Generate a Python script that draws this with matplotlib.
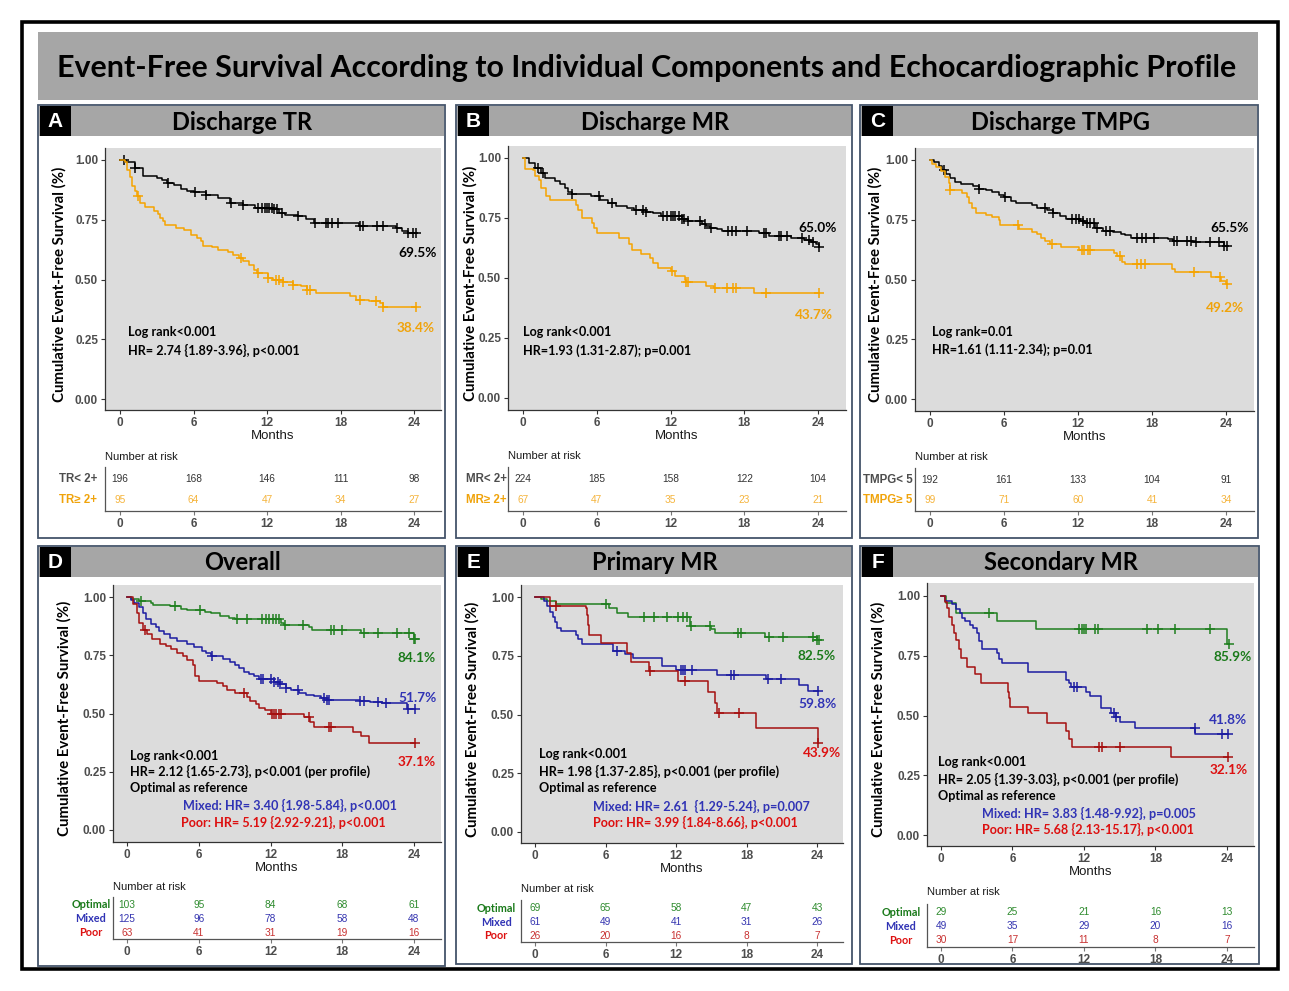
import numpy as np
import matplotlib.pyplot as plt
from matplotlib.patches import Rectangle

W, H = 1289, 991
months = [0, 6, 12, 18, 24]
yticks = [0.0, 0.25, 0.5, 0.75, 1.0]

# ---------------- data ----------------
# A: discharge TR
a_low_t = [0, 0.5, 1.2, 1.9, 3.0, 3.4, 3.8, 4.4, 5.0, 5.5, 6.0, 7.0, 8.0, 9.0, 10.0, 11.0, 12.5, 13.0,
           13.5, 14.5, 15.2, 15.8, 19.5, 22.5, 23.0, 23.5, 24.2]
a_low_s = [1.0, 0.99, 0.965, 0.935, 0.925, 0.915, 0.905, 0.895, 0.88, 0.87, 0.865, 0.855, 0.84, 0.82, 0.81,
           0.80, 0.795, 0.78, 0.77, 0.765, 0.755, 0.735, 0.725, 0.715, 0.705, 0.695, 0.695]
a_low_c = [0.3, 1.2, 3.9, 6.1, 7.0, 9.1, 10.0, 11.3, 11.6, 11.8, 12.0, 12.2, 12.4, 12.6, 12.8, 13.2, 14.5,
           15.9, 16.8, 17.0, 17.3, 17.8, 19.6, 19.8, 21.0, 21.5, 22.6, 23.5, 23.9, 24.2]
a_hi_t = [0, 0.4, 0.6, 0.8, 1.0, 1.2, 1.4, 1.6, 2.0, 2.8, 3.1, 3.3, 3.5, 3.7, 4.6, 5.2, 5.8, 6.3, 6.6, 6.8,
          7.5, 8.0, 8.8, 9.2, 9.7, 10.0, 10.5, 10.9, 11.2, 12.1, 12.5, 13.3, 14.1, 14.8, 15.3, 16.0, 18.8,
          19.3, 20.3, 21.2, 21.5, 24.2]
a_hi_s = [1.0, 0.99, 0.96, 0.93, 0.89, 0.87, 0.85, 0.82, 0.805, 0.785, 0.772, 0.758, 0.745, 0.73, 0.716,
          0.706, 0.688, 0.674, 0.66, 0.642, 0.635, 0.625, 0.615, 0.604, 0.59, 0.576, 0.562, 0.541, 0.527,
          0.506, 0.50, 0.49, 0.478, 0.471, 0.457, 0.443, 0.43, 0.415, 0.408, 0.40, 0.387, 0.387]
a_hi_c = [1.5, 9.9, 11.3, 12.1, 12.7, 13.0, 13.3, 14.1, 15.3, 15.5, 19.6, 20.9, 21.5, 24.2]

# B: discharge MR
b_low_t = [0, 0.5, 1.0, 1.5, 1.8, 2.6, 3.0, 3.4, 3.7, 4.0, 5.5, 6.3, 6.9, 7.6, 8.5, 9.0, 10.0, 10.6, 11.2,
           12.9, 13.4, 14.6, 14.9, 15.2, 15.8, 16.2, 19.2, 20.0, 21.8, 22.9, 23.4, 23.8, 24.1]
b_low_s = [1.0, 0.98, 0.957, 0.936, 0.915, 0.903, 0.89, 0.875, 0.86, 0.85, 0.843, 0.826, 0.812, 0.80,
           0.79, 0.783, 0.775, 0.769, 0.758, 0.745, 0.737, 0.727, 0.716, 0.71, 0.703, 0.696, 0.688, 0.677,
           0.667, 0.657, 0.65, 0.64, 0.63]
b_low_c = [1.2, 1.6, 4.0, 6.2, 7.2, 9.2, 9.8, 10.0, 11.4, 11.7, 12.0, 12.2, 12.4, 12.7, 12.9, 13.1, 13.4,
           14.4, 14.8, 15.3, 16.7, 17.0, 17.3, 18.2, 19.6, 19.8, 20.8, 21.0, 21.5, 22.7, 23.3, 23.6, 24.1]
b_hi_t = [0, 0.2, 0.8, 1.0, 1.3, 1.5, 1.9, 2.2, 4.3, 4.5, 4.8, 5.6, 5.8, 6.0, 7.8, 8.6, 8.9, 9.6, 10.3,
          10.6, 11.0, 12.0, 12.4, 13.2, 13.3, 14.9, 15.5, 18.8, 24.1]
b_hi_s = [1.0, 0.955, 0.948, 0.923, 0.91, 0.873, 0.84, 0.826, 0.805, 0.784, 0.749, 0.728, 0.708, 0.687,
          0.666, 0.642, 0.617, 0.60, 0.582, 0.561, 0.54, 0.531, 0.51, 0.492, 0.485, 0.468, 0.457, 0.438, 0.438]
b_hi_c = [12.1, 13.3, 13.4, 15.6, 16.6, 17.1, 17.3, 19.8, 24.1]

# C: discharge TMPG
c_low_t = [0, 0.3, 0.7, 1.0, 1.3, 1.6, 2.0, 2.5, 3.5, 4.0, 4.5, 5.0, 5.6, 6.0, 6.6, 7.0, 8.3, 8.7, 9.5,
           10.0, 10.5, 11.0, 12.2, 12.6, 13.4, 14.0, 14.8, 15.5, 15.8, 16.3, 19.3, 19.7, 21.3, 23.8, 24.1]
c_low_s = [1.0, 0.99, 0.975, 0.96, 0.94, 0.925, 0.91, 0.90, 0.89, 0.88, 0.875, 0.865, 0.855, 0.845, 0.83,
           0.82, 0.81, 0.80, 0.79, 0.78, 0.765, 0.755, 0.745, 0.735, 0.715, 0.705, 0.70, 0.69, 0.685, 0.675,
           0.67, 0.66, 0.655, 0.64, 0.64]
c_low_c = [1.1, 4.0, 6.1, 9.3, 10.0, 11.5, 11.8, 12.1, 12.4, 12.7, 13.0, 13.3, 13.5, 14.3, 14.6, 16.8,
           17.2, 17.5, 18.2, 19.8, 20.0, 20.8, 21.2, 21.6, 22.7, 23.4, 23.8, 24.1]
c_hi_t = [0, 0.2, 0.5, 0.9, 1.2, 1.5, 1.6, 2.6, 3.0, 3.2, 3.4, 3.7, 4.5, 5.0, 5.6, 5.7, 7.2, 8.3, 8.7,
          9.0, 9.3, 9.7, 10.6, 12.1, 14.9, 15.2, 15.6, 15.8, 19.6, 19.9, 22.8, 23.6, 24.0, 24.1]
c_hi_s = [1.0, 0.985, 0.97, 0.955, 0.93, 0.905, 0.875, 0.86, 0.845, 0.82, 0.80, 0.78, 0.77, 0.76, 0.75,
          0.73, 0.71, 0.70, 0.69, 0.675, 0.66, 0.65, 0.635, 0.625, 0.61, 0.597, 0.575, 0.565, 0.545, 0.53,
          0.51, 0.495, 0.48, 0.48]
c_hi_c = [1.6, 7.1, 9.9, 12.3, 12.5, 12.8, 13.0, 15.4, 16.8, 17.1, 17.4, 21.4, 23.5, 24.1]

# D: overall
d_opt_t = [0, 0.3, 1.0, 2.0, 2.2, 3.6, 4.5, 5.0, 6.5, 7.0, 7.8, 8.5, 9.0, 12.9, 13.1, 15.2, 15.5, 19.6,
           24.0, 24.1]
d_opt_s = [1.0, 0.99, 0.981, 0.975, 0.964, 0.96, 0.95, 0.945, 0.935, 0.93, 0.92, 0.91, 0.905, 0.89, 0.88,
           0.87, 0.86, 0.845, 0.82, 0.82]
d_opt_c = [1.2, 4.0, 6.1, 9.2, 10.0, 11.3, 11.6, 11.9, 12.2, 12.5, 12.7, 13.2, 14.7, 17.1, 17.3, 18.0,
           19.8, 21.0, 22.6, 23.6, 24.0, 24.1]
d_mix_t = [0, 0.3, 0.6, 1.0, 1.3, 1.6, 2.0, 2.4, 2.7, 3.1, 3.6, 4.2, 5.0, 5.6, 6.3, 6.6, 7.0, 8.0, 8.6,
           9.0, 9.4, 9.8, 10.2, 10.6, 11.0, 12.3, 12.8, 13.3, 13.7, 14.4, 15.0, 15.6, 16.2, 16.7, 19.5,
           20.3, 21.3, 23.4, 24.1]
d_mix_s = [1.0, 0.985, 0.975, 0.955, 0.93, 0.905, 0.885, 0.87, 0.855, 0.84, 0.825, 0.81, 0.80, 0.785,
           0.77, 0.76, 0.745, 0.735, 0.72, 0.71, 0.695, 0.68, 0.67, 0.66, 0.65, 0.637, 0.625, 0.61, 0.60,
           0.59, 0.58, 0.573, 0.565, 0.559, 0.553, 0.55, 0.545, 0.52, 0.52]
d_mix_c = [7.1, 11.2, 11.4, 12.0, 12.3, 12.6, 12.8, 13.3, 14.3, 16.5, 16.7, 16.9, 19.5, 19.8, 21.0, 21.7,
           23.5, 24.1]
d_poor_t = [0, 0.5, 0.8, 1.0, 1.3, 1.7, 2.1, 2.8, 3.3, 3.7, 4.2, 4.7, 5.0, 5.5, 5.7, 6.0, 7.5, 8.0, 8.4,
            9.0, 10.0, 10.3, 10.8, 11.0, 11.5, 12.0, 14.8, 15.3, 15.6, 18.9, 19.6, 20.2, 24.1]
d_poor_s = [1.0, 0.97, 0.93, 0.89, 0.86, 0.84, 0.82, 0.80, 0.79, 0.775, 0.76, 0.745, 0.73, 0.71, 0.66,
            0.64, 0.63, 0.62, 0.60, 0.59, 0.57, 0.555, 0.54, 0.525, 0.515, 0.50, 0.485, 0.465, 0.44, 0.42,
            0.405, 0.375, 0.375]
d_poor_c = [1.5, 9.8, 12.1, 12.3, 12.5, 12.7, 12.9, 15.2, 16.9, 17.1, 24.1]

# E: primary MR
e_opt_t = [0, 0.5, 1.0, 1.8, 6.3, 7.0, 7.9, 13.2, 15.0, 15.3, 19.6, 24.0, 24.2]
e_opt_s = [1.0, 0.99, 0.985, 0.97, 0.955, 0.932, 0.913, 0.878, 0.864, 0.847, 0.828, 0.815, 0.815]
e_opt_c = [6.0, 9.3, 10.1, 11.2, 12.2, 12.6, 12.9, 13.3, 14.9, 17.3, 17.5, 19.9, 21.1, 23.7, 24.0, 24.2]
e_mix_t = [0, 0.8, 1.0, 1.3, 1.5, 1.7, 1.9, 2.2, 3.5, 3.7, 4.0, 6.6, 7.7, 8.3, 10.8, 12.0, 15.5, 19.7,
           22.5, 23.2, 24.1]
e_mix_s = [1.0, 0.985, 0.96, 0.935, 0.915, 0.895, 0.87, 0.855, 0.84, 0.82, 0.80, 0.77, 0.757, 0.742,
           0.708, 0.69, 0.67, 0.65, 0.626, 0.60, 0.60]
e_mix_c = [7.0, 12.4, 12.6, 12.8, 13.4, 16.7, 16.9, 19.8, 20.9, 24.1]
e_poor_t = [0, 1.3, 4.3, 4.4, 4.5, 4.6, 5.6, 7.8, 8.2, 9.7, 12.2, 14.7, 15.3, 15.5, 18.8, 24.05, 24.1]
e_poor_s = [1.0, 0.96, 0.955, 0.925, 0.88, 0.84, 0.804, 0.762, 0.723, 0.684, 0.641, 0.594, 0.55, 0.506,
            0.443, 0.38, 0.38]
e_poor_c = [1.8, 9.8, 12.8, 15.7, 17.4, 24.1]

# F: secondary MR
f_opt_t = [0, 0.4, 1.3, 4.7, 8.0, 24.0, 24.2]
f_opt_s = [1.0, 0.97, 0.93, 0.897, 0.862, 0.80, 0.80]
f_opt_c = [4.0, 11.6, 11.8, 12.0, 12.2, 12.9, 13.2, 17.3, 18.2, 19.6, 22.6, 24.2]
f_mix_t = [0, 0.3, 0.9, 1.3, 1.6, 1.8, 2.0, 2.4, 2.7, 3.0, 3.2, 3.4, 4.7, 4.9, 5.1, 7.3, 10.45, 10.7,
           10.95, 12.2, 12.5, 13.4, 14.3, 14.7, 15.0, 16.3, 21.35, 24.1]
f_mix_s = [1.0, 0.98, 0.965, 0.945, 0.93, 0.91, 0.895, 0.88, 0.865, 0.845, 0.81, 0.78, 0.76, 0.735,
           0.718, 0.68, 0.65, 0.635, 0.62, 0.60, 0.58, 0.533, 0.51, 0.495, 0.472, 0.446, 0.423, 0.423]
f_mix_c = [11.2, 11.4, 14.5, 14.7, 21.3, 23.6, 24.1]
f_poor_t = [0, 0.3, 0.5, 0.7, 0.9, 1.1, 1.3, 1.5, 1.7, 2.15, 2.85, 3.35, 5.64, 5.7, 5.8, 7.26, 8.86,
            10.45, 10.7, 11.0, 19.33, 24.1]
f_poor_s = [1.0, 0.976, 0.95, 0.914, 0.879, 0.844, 0.816, 0.78, 0.739, 0.704, 0.672, 0.637, 0.60, 0.575,
            0.537, 0.509, 0.47, 0.437, 0.40, 0.37, 0.325, 0.325]
f_poor_c = [13.3, 13.5, 15.0, 24.1]

# numbers at risk
a_groups = ['TR< 2+', 'TR\u2265 2+']
a_risk = [[196, 168, 146, 111, 98], [95, 64, 47, 34, 27]]
b_groups = ['MR< 2+', 'MR\u2265 2+']
b_risk = [[224, 185, 158, 122, 104], [67, 47, 35, 23, 21]]
c_groups = ['TMPG< 5', 'TMPG\u2265 5']
c_risk = [[192, 161, 133, 104, 91], [99, 71, 60, 41, 34]]
profiles = ['Optimal', 'Mixed', 'Poor']
d_risk = [[103, 95, 84, 68, 61], [125, 96, 78, 58, 48], [63, 41, 31, 19, 16]]
e_risk = [[69, 65, 58, 47, 43], [61, 49, 41, 31, 26], [26, 20, 16, 8, 7]]
f_risk = [[29, 25, 21, 16, 13], [49, 35, 29, 20, 16], [30, 17, 11, 8, 7]]

# colours
BLK, ORG = '#000000', '#f5a300'
GRN, BLU, RED = '#1f7f1f', '#1c1ca0', '#a51010'
ORG_T, GRN_T, BLU_T, RED_T = '#f0a30a', '#1a7a1a', '#3033b5', '#dd1010'

plt.rcParams['font.family'] = ['Liberation Sans', 'DejaVu Sans']
CAL = ['Lato', 'DejaVu Sans']

fig = plt.figure(figsize=(W / 100, H / 100), dpi=100)
fig.patch.set_facecolor('white')
ren = fig.canvas.get_renderer()


def px_axes(l, t, r, b):
    return fig.add_axes([l / W, 1 - b / H, (r - l) / W, (b - t) / H])


def ftext(x, y, s, **kw):
    return fig.text(x / W, 1 - y / H, s, **kw)


def fit_size(s, width, vertical=False, **kw):
    t = fig.text(0, 0, s, fontsize=10, **kw)
    bb = t.get_window_extent(renderer=ren)
    t.remove()
    return 10 * width / (bb.height if vertical else bb.width)


def rect(l, t, r, b, **kw):
    fig.patches.append(Rectangle((l / W, 1 - b / H), (r - l) / W, (b - t) / H,
                                 transform=fig.transFigure, figure=fig, **kw))


fs_main = fit_size('Event-Free Survival According to Individual Components and Echocardiographic Profile',
                   1181, family=CAL, fontweight='bold')
fs_head = fit_size('Discharge TR', 140, family=CAL, fontweight='bold')
fs_ylab = fit_size('Cumulative Event-Free Survival (%)', 235, vertical=True, rotation=90,
                   family=CAL, fontweight='bold')
fs_note = fit_size('HR= 2.74 {1.89-3.96}, p<0.001', 171, family=CAL, fontweight='bold')
fs_pct = fit_size('69.5%', 38, family=CAL, fontweight='bold')
fs_grp = fit_size('Optimal', 39, family=CAL, fontweight='bold')

# outer frame and banner
rect(22, 22, 1278, 969, fill=False, edgecolor='black', lw=2.6, zorder=5)
rect(38, 32, 1258, 100, facecolor='#a6a6a6', edgecolor='none', zorder=1)
ftext(647, 68, 'Event-Free Survival According to Individual Components and Echocardiographic Profile',
      ha='center', va='center', family=CAL, fontweight='bold', fontsize=fs_main)

panels = [
    dict(letter='A', title='Discharge TR', frame=(38, 105, 445, 538), plot=(105, 148, 441, 410),
         ref=(120, 414, 160, 399), ylab_x=59,
         curves=[(a_low_t, a_low_s, a_low_c, BLK), (a_hi_t, a_hi_s, a_hi_c, ORG)],
         pct=[('69.5%', 24.3, 0.611, BLK), ('38.4%', 24.1, 0.297, ORG_T)],
         notes=[('Log rank<0.001', 0.63, 0.28, BLK), ('HR= 2.74 {1.89-3.96}, p<0.001', 0.63, 0.205, BLK)],
         table=(467, 511, 479.3, 20.7, 456.5), groups=a_groups, risk=a_risk,
         gcol=['#4d4d4d', ORG_T], ncol=['#333333', '#f5b43c'], gx=97, gha='right', gfont=None),
    dict(letter='B', title='Discharge MR', frame=(456, 105, 852, 538), plot=(508, 146, 846, 410),
         ref=(523, 818, 158, 398), ylab_x=470,
         curves=[(b_low_t, b_low_s, b_low_c, BLK), (b_hi_t, b_hi_s, b_hi_c, ORG)],
         pct=[('65.0%', 24.0, 0.709, BLK), ('43.7%', 23.7, 0.345, ORG_T)],
         notes=[('Log rank<0.001', 0.0, 0.273, BLK), ('HR=1.93 (1.31-2.87); p=0.001', 0.0, 0.199, BLK)],
         table=(467, 511, 479.3, 20.7, 456), groups=b_groups, risk=b_risk,
         gcol=['#4d4d4d', ORG_T], ncol=['#333333', '#f5b43c'], gx=507, gha='right', gfont=None),
    dict(letter='C', title='Discharge TMPG', frame=(860, 105, 1258, 538), plot=(915, 148, 1254, 411),
         ref=(930, 1226, 160, 399), ylab_x=875,
         curves=[(c_low_t, c_low_s, c_low_c, BLK), (c_hi_t, c_hi_s, c_hi_c, ORG)],
         pct=[('65.5%', 24.3, 0.715, BLK), ('49.2%', 23.9, 0.381, ORG_T)],
         notes=[('Log rank=0.01', 0.2, 0.279, BLK), ('HR=1.61 (1.11-2.34); p=0.01', 0.2, 0.205, BLK)],
         table=(468, 511, 480, 20.3, 456.7), groups=c_groups, risk=c_risk,
         gcol=['#4d4d4d', ORG_T], ncol=['#333333', '#f5b43c'], gx=863, gha='left', gfont=None),
    dict(letter='D', title='Overall', frame=(38, 546, 445, 966), plot=(113, 585, 441, 842),
         ref=(127, 414, 597, 830), ylab_x=64,
         curves=[(d_opt_t, d_opt_s, d_opt_c, GRN), (d_mix_t, d_mix_s, d_mix_c, BLU),
                 (d_poor_t, d_poor_s, d_poor_c, RED)],
         pct=[('84.1%', 24.2, 0.739, GRN_T), ('51.7%', 24.25, 0.567, BLU_T), ('37.1%', 24.25, 0.292, RED_T)],
         notes=[('Log rank<0.001', 0.23, 0.319, BLK),
                ('HR= 2.12 {1.65-2.73}, p<0.001 (per profile)', 0.23, 0.251, BLK),
                ('Optimal as reference', 0.23, 0.179, BLK),
                ('Mixed: HR= 3.40 {1.98-5.84}, p<0.001', 4.68, 0.104, BLU_T),
                ('Poor: HR= 5.19 {2.92-9.21}, p<0.001', 4.55, 0.031, RED_T)],
         table=(897, 939, 905, 14, 886.7), groups=profiles, risk=d_risk,
         gcol=[GRN_T, BLU_T, RED_T], ncol=['#2e8b2e', '#3535b0', '#c83232'], gx=91, gha='center',
         gfont=CAL),
    dict(letter='E', title='Primary MR', frame=(456, 546, 852, 964), plot=(521, 585, 843, 843),
         ref=(535, 817, 597, 832), ylab_x=472,
         curves=[(e_opt_t, e_opt_s, e_opt_c, GRN), (e_mix_t, e_mix_s, e_mix_c, BLU),
                 (e_poor_t, e_poor_s, e_poor_c, RED)],
         pct=[('82.5%', 24.0, 0.750, GRN_T), ('59.8%', 24.0, 0.546, BLU_T), ('43.9%', 24.4, 0.337, RED_T)],
         notes=[('Log rank<0.001', 0.34, 0.332, BLK),
                ('HR= 1.98 {1.37-2.85}, p<0.001 (per profile)', 0.34, 0.258, BLK),
                ('Optimal as reference', 0.34, 0.187, BLK),
                ('Mixed: HR= 2.61  {1.29-5.24}, p=0.007', 4.95, 0.109, BLU_T),
                ('Poor: HR= 3.99 {1.84-8.66}, p<0.001', 4.95, 0.041, RED_T)],
         table=(900, 942.3, 908.3, 13.7, 888.7), groups=profiles, risk=e_risk,
         gcol=[GRN_T, BLU_T, RED_T], ncol=['#2e8b2e', '#3535b0', '#c83232'], gx=496, gha='center',
         gfont=CAL),
    dict(letter='F', title='Secondary MR', frame=(860, 546, 1259, 964), plot=(927, 583, 1254, 846),
         ref=(941, 1227, 596, 835), ylab_x=878,
         curves=[(f_opt_t, f_opt_s, f_opt_c, GRN), (f_mix_t, f_mix_s, f_mix_c, BLU),
                 (f_poor_t, f_poor_s, f_poor_c, RED)],
         pct=[('85.9%', 24.5, 0.745, GRN_T), ('41.8%', 24.1, 0.481, BLU_T), ('32.1%', 24.1, 0.272, RED_T)],
         notes=[('Log rank<0.001', -0.23, 0.304, BLK),
                ('HR= 2.05 {1.39-3.03}, p<0.001 (per profile)', -0.23, 0.233, BLK),
                ('Optimal as reference', -0.23, 0.164, BLK),
                ('Mixed: HR= 3.83 {1.48-9.92}, p=0.005', 3.44, 0.091, BLU_T),
                ('Poor: HR= 5.68 {2.13-15.17}, p<0.001', 3.44, 0.022, RED_T)],
         table=(904, 947, 912, 14, 892.3), groups=profiles, risk=f_risk,
         gcol=[GRN_T, BLU_T, RED_T], ncol=['#2e8b2e', '#3535b0', '#c83232'], gx=901, gha='center',
         gfont=CAL),
]

for p in panels:
    fl, ft, fr, fb = p['frame']
    # panel frame + header bar
    rect(fl, ft, fr, fb, facecolor='white', edgecolor='#44546a', lw=1.3, zorder=-2)
    rect(fl + 1, ft + 1, fr - 1, ft + 31, facecolor='#a6a6a6', edgecolor='none', zorder=1)
    rect(fl + 2, ft + 1, fl + 33, ft + 31, facecolor='black', edgecolor='none', zorder=2)
    ftext(fl + 17.5, ft + 16.5, p['letter'], ha='center', va='center', color='white',
          fontweight='bold', fontsize=15, zorder=3)
    ftext((fl + fr) / 2 + 1, ft + 17, p['title'], ha='center', va='center', family=CAL,
          fontweight='bold', fontsize=fs_head, zorder=3)

    # survival plot
    l, t, r, b = p['plot']
    x0, x24, y1, y0 = p['ref']
    ppm = (x24 - x0) / 24.0
    ppu = float(y0 - y1)
    ax = px_axes(l, t, r, b)
    ax.set_facecolor('#dcdcdc')
    ax.set_xlim((l - x0) / ppm, (r - x0) / ppm)
    ax.set_ylim((y0 - b) / ppu, (y0 - t) / ppu)
    for tt, ss, cc, col in p['curves']:
        tt, ss = np.array(tt), np.array(ss)
        ax.step(tt, ss, where='post', color=col, lw=1.1)
        idx = np.searchsorted(tt, cc, side='right') - 1
        ax.plot(cc, ss[idx], '+', color=col, ms=7, mew=1.1)
    for txt, xx, yy, col in p['pct']:
        ax.text(xx, yy, txt, ha='center', va='center', color=col, family=CAL,
                fontweight='bold', fontsize=fs_pct)
    for txt, xx, yy, col in p['notes']:
        ax.text(xx, yy, txt, ha='left', va='center', color=col, family=CAL,
                fontweight='bold', fontsize=fs_note)
    ax.set_xticks(months, [str(m) for m in months], fontweight='bold', fontsize=8.5, color='#4d4d4d')
    ax.set_yticks(yticks, ['%.2f' % v for v in yticks], fontweight='bold', fontsize=8.5, color='#4d4d4d')
    ax.tick_params(length=3, width=0.8, color='#333333', pad=2)
    ax.spines[['top', 'right']].set_visible(False)
    for sp in ('left', 'bottom'):
        ax.spines[sp].set_color('#333333')
        ax.spines[sp].set_linewidth(0.9)
    ax.set_xlabel('Months', fontsize=9.5, color='#1a1a1a', labelpad=1)
    ftext(p['ylab_x'], (t + b) / 2 + 5, 'Cumulative Event-Free Survival (%)', rotation=90,
          ha='center', va='center', family=CAL, fontweight='bold', fontsize=fs_ylab)

    # number at risk table
    tt_, tb_, row0, step, nar_y = p['table']
    tax = px_axes(l, tt_, r, tb_)
    tax.set_facecolor('none')
    tax.set_xlim((l - x0) / ppm, (r - x0) / ppm)
    tax.set_ylim((tb_ - row0) / step, -(row0 - tt_) / step)
    n = len(p['groups'])
    for i in range(n):
        for m, v in zip(months, p['risk'][i]):
            tax.text(m, i, str(v), ha='center', va='center', color=p['ncol'][i], fontsize=7.3)
        gy = row0 + i * step
        if p['gfont'] is None:
            ftext(p['gx'], gy, p['groups'][i], ha=p['gha'], va='center', color=p['gcol'][i],
                  fontweight='bold', fontsize=8.3)
        else:
            ftext(p['gx'], gy, p['groups'][i], ha=p['gha'], va='center', color=p['gcol'][i],
                  family=p['gfont'], fontweight='bold', fontsize=fs_grp)
    tax.set_xticks(months, [str(m) for m in months], fontweight='bold', fontsize=8.5, color='#4d4d4d')
    tax.set_yticks([])
    tax.tick_params(axis='x', length=3, width=0.8, color='#777777', pad=2)
    tax.spines[['top', 'right']].set_visible(False)
    for sp in ('left', 'bottom'):
        tax.spines[sp].set_color('#555555')
        tax.spines[sp].set_linewidth(0.9)
    ftext(l, nar_y, 'Number at risk', ha='left', va='center', fontsize=8, color='#1a1a1a')

fig.savefig('out.png', dpi=100, facecolor='white')
